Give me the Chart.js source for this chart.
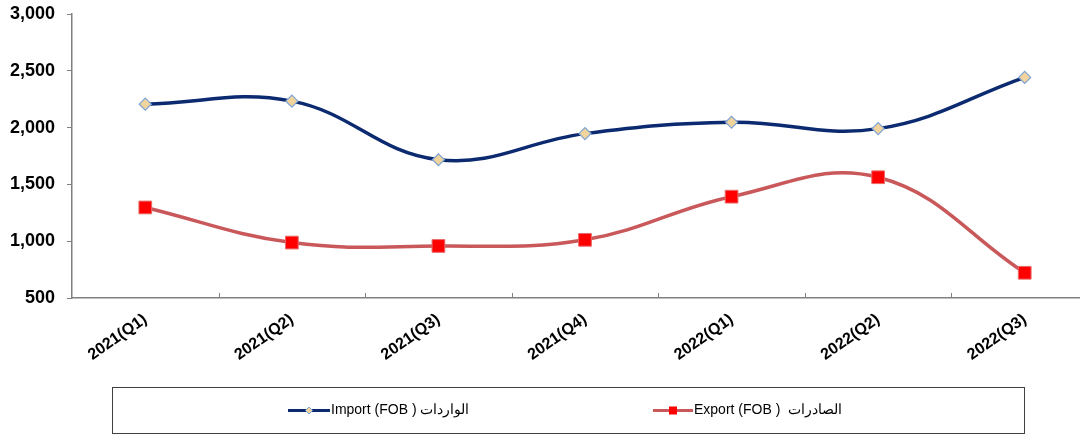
<!DOCTYPE html>
<html>
<head>
<meta charset="utf-8">
<script src="https://cdn.jsdelivr.net/npm/chart.js@4/dist/chart.umd.min.js"></script>
<style>
  html, body { margin: 0; padding: 0; background: #fff; overflow: hidden; }
  #wrap { width: 1080px; height: 436px; overflow: hidden; position: relative; }
  #c { position: absolute; left: 0; top: 0; }
</style>
</head>
<body>
<div id="wrap"><canvas id="c" width="1108" height="436" style="width:1108px;height:436px"></canvas></div>
<script>
const categories = ['2021(Q1)', '2021(Q2)', '2021(Q3)', '2021(Q4)', '2022(Q1)', '2022(Q2)', '2022(Q3)'];
const importValues = [2206, 2233, 1717, 1947, 2047, 1991, 2442];
const exportValues = [1297, 988, 958, 1012, 1392, 1563, 722];
const importLabel = 'Import (FOB ) الواردات';
const exportLabel = 'Export (FOB )  الصادرات';
const yTicks = [500, 1000, 1500, 2000, 2500, 3000];

const FONT = '"Liberation Sans", Arial, sans-serif';

const insideTicks = {
  id: 'insideTicks',
  afterDatasetsDraw(chart) {
    const x = chart.scales.x, ctx = chart.ctx;
    const bottom = chart.chartArea.bottom;
    ctx.save();
    ctx.strokeStyle = '#7f7f7f';
    ctx.lineWidth = 1;
    for (let i = 0; i < categories.length - 1; i++) {
      const px = Math.round((x.getPixelForValue(i) + x.getPixelForValue(i + 1)) / 2) + 0.5;
      ctx.beginPath();
      ctx.moveTo(px, bottom);
      ctx.lineTo(px, bottom - 5);
      ctx.stroke();
    }
    ctx.restore();
  }
};

const boxLegend = {
  id: 'boxLegend',
  afterDraw(chart) {
    const ctx = chart.ctx;
    ctx.save();
    ctx.strokeStyle = '#404040';
    ctx.lineWidth = 1;
    ctx.strokeRect(112.5, 387.5, 912, 46);
    const items = [
      { ds: chart.data.datasets[0], x0: 288, x1: 330, tx: 331 },
      { ds: chart.data.datasets[1], x0: 653, x1: 693, tx: 694 }
    ];
    const cy = 410.5;
    items.forEach(it => {
      const ds = it.ds;
      ctx.strokeStyle = ds.borderColor;
      ctx.lineWidth = 3;
      ctx.beginPath();
      ctx.moveTo(it.x0, cy);
      ctx.lineTo(it.x1, cy);
      ctx.stroke();
      const mx = (it.x0 + it.x1) / 2;
      ctx.fillStyle = ds.pointBackgroundColor;
      ctx.strokeStyle = ds.pointBorderColor;
      ctx.lineWidth = 1;
      if (ds.pointStyle === 'rectRot') {
        ctx.beginPath();
        ctx.moveTo(mx, cy - 3.5); ctx.lineTo(mx + 3.5, cy); ctx.lineTo(mx, cy + 3.5); ctx.lineTo(mx - 3.5, cy);
        ctx.closePath(); ctx.fill(); ctx.stroke();
      } else {
        ctx.fillRect(mx - 4, cy - 4, 8, 8);
      }
      ctx.fillStyle = '#000';
      ctx.font = '14px ' + FONT;
      ctx.textBaseline = 'middle';
      ctx.textAlign = 'left';
      ctx.direction = 'ltr';
      ctx.fillText(ds.label, it.tx, cy);
    });
    ctx.restore();
  }
};

new Chart(document.getElementById('c'), {
  type: 'line',
  data: {
    labels: categories,
    datasets: [
      {
        label: importLabel,
        data: importValues,
        borderColor: '#0b2a6f',
        borderWidth: 3.5,
        tension: 0.4,
        pointStyle: 'rectRot',
        pointRadius: 6,
        pointBackgroundColor: '#f0d49c',
        pointBorderColor: '#7ea3d6',
        pointBorderWidth: 1.2,
        fill: false
      },
      {
        label: exportLabel,
        data: exportValues,
        borderColor: '#c9585a',
        borderWidth: 3.5,
        tension: 0.4,
        pointStyle: 'rect',
        pointRadius: 9,
        pointBackgroundColor: '#ff0000',
        pointBorderColor: '#e86a6a',
        pointBorderWidth: 1,
        fill: false
      }
    ]
  },
  options: {
    responsive: false,
    animation: false,
    layout: { padding: { top: 14, left: 0, right: 2, bottom: 0 } },
    plugins: { legend: { display: false }, tooltip: { enabled: false } },
    scales: {
      x: {
        offset: true,
        grid: { display: true, drawOnChartArea: false, drawTicks: false, offset: true, color: 'rgba(0,0,0,0)' },
        border: { display: true, color: '#808080', width: 1.5 },
        ticks: {
          color: '#000',
          font: { family: FONT, size: 16, weight: 'bold' },
          minRotation: 35,
          maxRotation: 35,
          padding: 12,
          autoSkip: false
        },
        afterFit(s) { s.height = 138; s.paddingLeft = 0; s.paddingRight = 0; }
      },
      y: {
        min: 500,
        max: 3000,
        afterBuildTicks(s) { s.ticks = yTicks.map(v => ({ value: v })); },
        grid: { drawOnChartArea: false, drawTicks: true, tickLength: 5, color: '#808080' },
        border: { display: true, color: '#808080', width: 1.5 },
        ticks: {
          color: '#000',
          font: { family: FONT, size: 18, weight: 'bold' },
          padding: 12,
          callback: v => Number(v).toLocaleString('en-US')
        },
        afterFit(s) { s.width = 72; s.paddingTop = 2; s.paddingBottom = 2; }
      }
    }
  },
  plugins: [insideTicks, boxLegend]
});
</script>
</body>
</html>
